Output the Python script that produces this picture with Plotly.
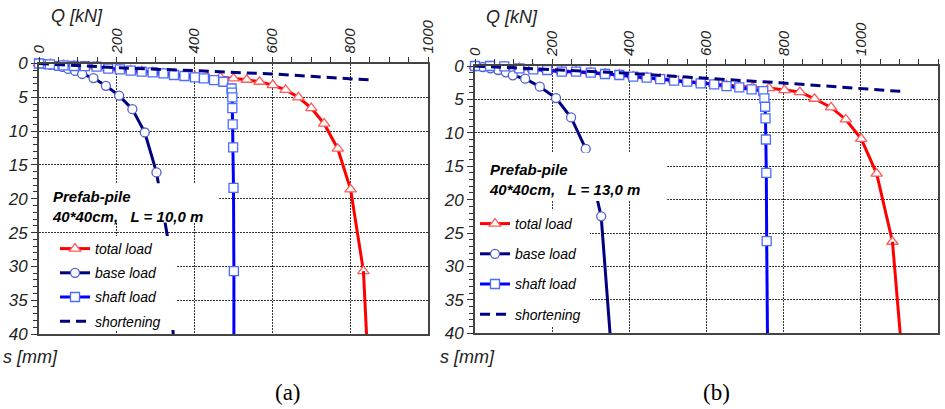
import plotly.graph_objects as go

# ---------------- data: panel (a)  L = 10,0 m ----------------
total_a_q = [0, 30, 63, 90, 118, 148, 178, 208, 236, 264, 292, 320, 347, 374, 401, 433, 466,
             500, 534, 567, 601, 634, 667, 700, 733, 768, 801, 834]
total_a_s = [0, 0.1, 0.25, 0.35, 0.4, 0.45, 0.7, 0.85, 1.0, 1.15, 1.3, 1.45, 1.6, 1.75, 1.9, 2.0, 2.05,
             2.2, 2.4, 2.7, 3.2, 3.9, 5.0, 6.6, 8.9, 12.6, 18.6, 30.7]
total_a_tail_q = [834, 842]
total_a_tail_s = [30.7, 40]

base_a_q = [0, 15, 30, 45, 60, 75, 93, 111, 140, 172, 206, 240, 272, 302]
base_a_s = [0, 0.1, 0.2, 0.35, 0.5, 0.8, 1.1, 1.55, 2.15, 3.3, 4.75, 6.75, 10.2, 16.1]
base_a_tail_q = [302, 322, 330, 345]
base_a_tail_s = [16.1, 23, 25.5, 40]

shaft_a_q = [0, 28, 63, 90, 118, 148, 178, 208, 236, 264, 292, 320, 347, 374, 401, 424, 450,
             474, 495, 496, 497, 497, 498, 499, 500, 501]
shaft_a_s = [0, 0.12, 0.27, 0.37, 0.4, 0.45, 0.75, 0.86, 1.06, 1.2, 1.3, 1.45, 1.7, 1.85, 2.04, 2.2, 2.45,
             2.7, 3.7, 4.3, 5.0, 6.6, 9.0, 12.4, 18.4, 30.7]
shaft_a_tail_q = [501, 501]
shaft_a_tail_s = [30.7, 40]

short_a_q = [0, 200, 400, 600, 853]
short_a_s = [0, 0.62, 1.06, 1.55, 2.44]

# ---------------- data: panel (b)  L = 13,0 m ----------------
total_b_q = [0, 40, 76, 115, 151, 187, 225, 262, 300, 337, 374, 410, 445, 480, 516, 550, 585, 620,
             652, 685, 720, 762, 802, 842, 880, 923, 961, 1001, 1041, 1082]
total_b_s = [0, 0.05, 0.1, 0.3, 0.45, 0.55, 0.8, 0.85, 0.95, 1.15, 1.3, 1.55, 1.7, 1.9, 2.1, 2.3, 2.5, 2.7,
             2.9, 3.05, 3.2, 3.3, 3.6, 3.9, 4.9, 6.2, 8.0, 10.9, 16.1, 26.3]
total_b_tail_q = [1082, 1102]
total_b_tail_s = [26.3, 40]

base_b_q = [0, 20, 40, 60, 80, 98, 130, 168, 210, 249, 287]
base_b_s = [0, 0.15, 0.35, 0.6, 0.95, 1.4, 1.9, 3.1, 4.8, 7.7, 12.4]
base_b_tail_q = [287, 318, 327, 350]
base_b_tail_s = [12.4, 20, 22.5, 40]
base_b_extra_q = [327]
base_b_extra_s = [22.5]

shaft_b_q = [0, 39, 76, 115, 151, 187, 225, 262, 300, 337, 374, 410, 445, 480, 516, 550, 585, 620,
             652, 685, 717, 747, 750, 752, 753, 754, 755, 756]
shaft_b_s = [0, 0, 0.05, 0.35, 0.5, 0.6, 0.85, 0.85, 1.0, 1.2, 1.35, 1.6, 1.75, 1.95, 2.2, 2.35, 2.6, 2.75,
             3.0, 3.2, 3.5, 3.75, 4.85, 6.1, 7.85, 11.0, 16.0, 26.2]
shaft_b_tail_q = [756, 758]
shaft_b_tail_s = [26.2, 40]

short_b_q = [0, 200, 400, 600, 800, 1103]
short_b_s = [0, 0.55, 1.1, 1.85, 2.55, 3.8]

x_max_a, x_max_b = 1000, 1200
s_max = 40

W, H = 945, 409
RED, NAVY, BLUE = "#ff0000", "#000080", "#0000ff"
FONT = "Liberation Sans"

fig = go.Figure()


def add_panel(fig, xa, ya, legend, tot, tot_t, base, base_t, shaft, shaft_t, short, extra=None):
    g = legend
    fig.add_trace(go.Scatter(x=tot[0], y=tot[1], mode="lines+markers", name="total load",
                             line=dict(color=RED, width=3),
                             marker=dict(symbol="triangle-up", size=10, color="white",
                                         line=dict(width=1.3, color="#ff5a5a")),
                             cliponaxis=False, xaxis=xa, yaxis=ya, legend=legend,
                             legendgroup=g + "t"))
    fig.add_trace(go.Scatter(x=tot_t[0], y=tot_t[1], mode="lines", showlegend=False,
                             line=dict(color=RED, width=3), xaxis=xa, yaxis=ya,
                             legendgroup=g + "t", legend=legend))
    fig.add_trace(go.Scatter(x=base_t[0], y=base_t[1], mode="lines", showlegend=False,
                             line=dict(color=NAVY, width=3), xaxis=xa, yaxis=ya,
                             legendgroup=g + "b", legend=legend))
    fig.add_trace(go.Scatter(x=base[0], y=base[1], mode="lines+markers", name="base load",
                             line=dict(color=NAVY, width=3),
                             marker=dict(symbol="circle", size=9, color="white",
                                         line=dict(width=1.3, color="#5060d0")),
                             cliponaxis=False, xaxis=xa, yaxis=ya, legend=legend,
                             legendgroup=g + "b"))
    if extra is not None:
        fig.add_trace(go.Scatter(x=extra[0], y=extra[1], mode="markers", showlegend=False,
                                 marker=dict(symbol="circle", size=9, color="white",
                                             line=dict(width=1.3, color="#5060d0")),
                                 xaxis=xa, yaxis=ya, legendgroup=g + "b", legend=legend))
    fig.add_trace(go.Scatter(x=shaft_t[0], y=shaft_t[1], mode="lines", showlegend=False,
                             line=dict(color=BLUE, width=3), xaxis=xa, yaxis=ya,
                             legendgroup=g + "s", legend=legend))
    fig.add_trace(go.Scatter(x=shaft[0], y=shaft[1], mode="lines+markers", name="shaft load",
                             line=dict(color=BLUE, width=3),
                             marker=dict(symbol="square", size=9, color="white",
                                         line=dict(width=1.3, color="#4a6cff")),
                             cliponaxis=False, xaxis=xa, yaxis=ya, legend=legend,
                             legendgroup=g + "s"))
    fig.add_trace(go.Scatter(x=short[0], y=short[1], mode="lines", name="shortening",
                             line=dict(color=NAVY, width=3, dash="10px,6px"),
                             xaxis=xa, yaxis=ya, legend=legend, legendgroup=g + "d"))


add_panel(fig, "x", "y", "legend",
          (total_a_q, total_a_s), (total_a_tail_q, total_a_tail_s),
          (base_a_q, base_a_s), (base_a_tail_q, base_a_tail_s),
          (shaft_a_q, shaft_a_s), (shaft_a_tail_q, shaft_a_tail_s),
          (short_a_q, short_a_s))
add_panel(fig, "x2", "y2", "legend2",
          (total_b_q, total_b_s), (total_b_tail_q, total_b_tail_s),
          (base_b_q, base_b_s), (base_b_tail_q, base_b_tail_s),
          (shaft_b_q, shaft_b_s), (shaft_b_tail_q, shaft_b_tail_s),
          (short_b_q, short_b_s), extra=(base_b_extra_q, base_b_extra_s))

tickfont_x = dict(family=FONT, size=15, style="italic", color="#222")
tickfont_y = dict(family=FONT, size=17, style="italic", color="#222")


def xaxis(dom, rng):
    return dict(domain=dom, range=rng, side="top", dtick=200, tick0=0, tickangle=-90,
                automargin=False,
                tickfont=tickfont_x, ticks="outside", ticklen=5, tickcolor="#333",
                minor=dict(dtick=50, ticks="outside", ticklen=5, tickcolor="#333", showgrid=False),
                showgrid=True, gridcolor="#333", griddash="2px,1px", gridwidth=1,
                showline=True, linecolor="#444", linewidth=2, mirror=True, zeroline=False)


def yaxis(dom, anchor):
    return dict(domain=dom, range=[s_max, 0], dtick=5, tick0=0, anchor=anchor,
                automargin=False,
                tickfont=tickfont_y, ticks="outside", ticklen=6, tickcolor="#333",
                minor=dict(dtick=1, ticks="outside", ticklen=4, tickcolor="#333", showgrid=False),
                showgrid=True, gridcolor="#333", griddash="2px,1px", gridwidth=1,
                showline=True, linecolor="#444", linewidth=2, mirror=True, zeroline=False)


xa_dom = [39 / W, 428 / W]
xb_dom = [475 / W, 938 / W]
ya_dom = [1 - 334 / H, 1 - 63.5 / H]
yb_dom = [1 - 333.3 / H, 1 - 66 / H]

legend_font = dict(family=FONT, size=14, style="italic", color="black")

fig.update_layout(
    width=W, height=H, margin=dict(l=0, r=0, t=0, b=0, pad=0, autoexpand=False),
    paper_bgcolor="white", plot_bgcolor="white",
    xaxis=dict(xaxis(xa_dom, [0, x_max_a]), anchor="y"),
    yaxis=yaxis(ya_dom, "x"),
    xaxis2=dict(xaxis(xb_dom, [0, x_max_b]), anchor="y2"),
    yaxis2=yaxis(yb_dom, "x2"),
    legend=dict(x=55 / W, y=1 - 233 / H, xanchor="left", yanchor="top",
                bgcolor="rgba(0,0,0,0)",
                font=legend_font, traceorder="grouped", tracegroupgap=3, borderwidth=0),
    legend2=dict(x=475 / W, y=1 - 208 / H, xanchor="left", yanchor="top",
                 bgcolor="rgba(0,0,0,0)",
                 font=legend_font, traceorder="grouped", tracegroupgap=9, borderwidth=0),
    showlegend=True,
)

# white boxes behind the pile descriptions and the legends
fig.add_shape(type="rect", xref="x", yref="y", x0=0, x1=463, y0=17.7, y1=23.5,
              fillcolor="white", line=dict(width=0), layer="above")
fig.add_shape(type="rect", xref="x2", yref="y2", x0=0, x1=498, y0=13.0, y1=20.2,
              fillcolor="white", line=dict(width=0), layer="above")
fig.add_shape(type="rect", xref="x", yref="y", x0=0, x1=352, y0=25.5, y1=39.4,
              fillcolor="white", line=dict(width=0), layer="above")
fig.add_shape(type="rect", xref="x2", yref="y2", x0=0, x1=298, y0=21.6, y1=38.9,
              fillcolor="white", line=dict(width=0), layer="above")

ann_font = dict(family=FONT, size=15, style="italic", weight="bold", color="black")
fig.add_annotation(xref="paper", yref="paper", x=50 / W, y=1 - 186 / H, xanchor="left",
                   yanchor="top", align="left", showarrow=False, font=ann_font,
                   text="Prefab-pile<br>40*40cm,   L = 10,0 m")
fig.add_annotation(xref="paper", yref="paper", x=487 / W, y=1 - 159 / H, xanchor="left",
                   yanchor="top", align="left", showarrow=False, font=ann_font,
                   text="Prefab-pile<br>40*40cm,   L = 13,0 m")

title_font = dict(family=FONT, size=18, style="italic", color="#222")
for xc, yc in [(77, 16), (512, 17)]:
    fig.add_annotation(xref="paper", yref="paper", x=xc / W, y=1 - yc / H, showarrow=False,
                       xanchor="center", yanchor="middle", text="Q [kN]", font=title_font)
for xc, yc in [(30, 357), (467, 357)]:
    fig.add_annotation(xref="paper", yref="paper", x=xc / W, y=1 - yc / H, showarrow=False,
                       xanchor="center", yanchor="middle", text="s [mm]", font=title_font)

cap_font = dict(family="Liberation Serif", size=23, color="black")
fig.add_annotation(xref="paper", yref="paper", x=288 / W, y=1 - 392 / H, showarrow=False,
                   xanchor="center", yanchor="middle", text="(a)", font=cap_font)
fig.add_annotation(xref="paper", yref="paper", x=716 / W, y=1 - 392 / H, showarrow=False,
                   xanchor="center", yanchor="middle", text="(b)", font=cap_font)

fig.write_html("out.html", config={"displayModeBar": False},
               post_script="document.body.style.margin='0';document.body.style.overflow='hidden';")
